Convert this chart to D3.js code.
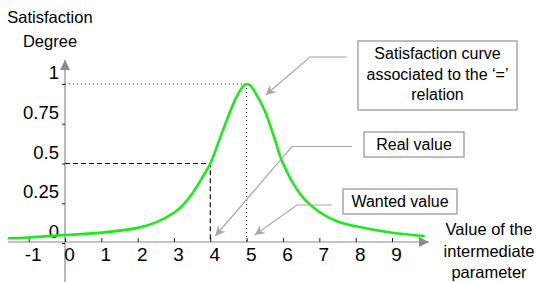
<!DOCTYPE html>
<html>
<head>
<meta charset="utf-8">
<script src="https://cdn.jsdelivr.net/npm/d3@7"></script>
<style>
  body { margin: 0; background: #fff; }
</style>
</head>
<body>
<div id="chart"></div>
<script>
// values
const xValues = [-1.57, -1, 0, 1, 2, 2.5, 3, 3.25, 3.5, 3.8, 4, 4.25, 4.5, 4.7, 4.9, 5, 5.1, 5.3, 5.5, 5.75, 6, 6.5, 7, 7.5, 8, 9, 9.9]
const satValues = [0.03, 0.035, 0.05, 0.065, 0.095, 0.13, 0.19, 0.24, 0.31, 0.42, 0.5, 0.65, 0.8, 0.91, 0.985, 1.0, 0.99, 0.92, 0.83, 0.67, 0.5, 0.3, 0.195, 0.135, 0.105, 0.065, 0.044]
const xTicks = [-1, 0, 1, 2, 3, 4, 5, 6, 7, 8, 9]
const yTicks = [0, 0.25, 0.5, 0.75, 1]
const realValue = 4
const wantedValue = 5

const width = 536
const height = 282
const gray = '#9a9a9a'
const font = '"Liberation Sans", Arial, sans-serif'

const svg = d3.select('#chart')
  .append('svg')
  .attr('width', width)
  .attr('height', height)
  .attr('font-family', font)

const x = d3.scaleLinear().domain([0, 9]).range([65, 392])
const y = d3.scaleLinear().domain([0, 1]).range([243, 84])
const axisY = y(0) - 1

// arrow markers
const defs = svg.append('defs')
defs.append('marker')
  .attr('id', 'axisHead')
  .attr('viewBox', '0 0 10 10')
  .attr('refX', 10).attr('refY', 5)
  .attr('markerWidth', 10).attr('markerHeight', 14)
  .attr('markerUnits', 'userSpaceOnUse')
  .attr('orient', 'auto')
  .append('path')
  .attr('d', 'M0,0 L10,5 L0,10 Z')
  .attr('fill', '#8a8a8a')
defs.append('marker')
  .attr('id', 'noteHead')
  .attr('viewBox', '0 0 10 10')
  .attr('refX', 10).attr('refY', 5)
  .attr('markerWidth', 14).attr('markerHeight', 10)
  .attr('markerUnits', 'userSpaceOnUse')
  .attr('orient', 'auto')
  .append('path')
  .attr('d', 'M0,0 L10,5 L0,10 L3,5 Z')
  .attr('fill', '#a8a8a8')

// axis lines
svg.append('line')
  .attr('x1', 8).attr('x2', 429)
  .attr('y1', axisY).attr('y2', axisY)
  .attr('stroke', '#8a8a8a').attr('stroke-width', 1.2)
  .attr('marker-end', 'url(#axisHead)')
svg.append('line')
  .attr('x1', x(0)).attr('x2', x(0))
  .attr('y1', height).attr('y2', 60)
  .attr('stroke', '#8a8a8a').attr('stroke-width', 1.2)
  .attr('marker-end', 'url(#axisHead)')

// x axis
const xAxis = svg.append('g')
  .attr('transform', `translate(0, ${axisY})`)
  .call(d3.axisTop(x).tickValues(xTicks).tickSize(4).tickFormat(d3.format('d')))
xAxis.attr('font-family', font)
xAxis.select('.domain').remove()
xAxis.selectAll('.tick line').attr('stroke', '#222')
xAxis.selectAll('.tick text')
  .attr('y', 18.5).attr('dy', 0).attr('x', 4)
  .attr('font-size', 19).attr('fill', '#000')
  .text(d => d < 0 ? '-' + Math.abs(d) : d)

// y axis
const yAxis = svg.append('g')
  .attr('transform', `translate(${x(0)}, 0)`)
  .call(d3.axisLeft(y).tickValues(yTicks).tickSize(3).tickFormat(d => String(d)))
yAxis.attr('font-family', font)
yAxis.select('.domain').remove()
yAxis.selectAll('.tick line').attr('stroke', '#222')
yAxis.selectAll('.tick text')
  .attr('x', -6).attr('dy', 0).attr('y', -5.5)
  .attr('font-size', 18.5).attr('fill', '#000')

// guide lines
svg.append('path')
  .attr('d', `M${x(0)},${y(1)} H${x(wantedValue)} M${x(wantedValue)},${y(1)} V${axisY}`)
  .attr('fill', 'none').attr('stroke', '#222')
  .attr('stroke-width', 1).attr('stroke-dasharray', '1,3')
svg.append('path')
  .attr('d', `M${x(0)},${y(0.5)} H${x(realValue)} V${axisY}`)
  .attr('fill', 'none').attr('stroke', '#111')
  .attr('stroke-width', 1.2).attr('stroke-dasharray', '5,3')

// curve
const points = xValues.map((v, i) => [v, satValues[i]])
svg.append('path')
  .datum(points)
  .attr('d', d3.line().x(d => x(d[0])).y(d => y(d[1])).curve(d3.curveCatmullRom.alpha(0.5)))
  .attr('fill', 'none')
  .attr('stroke', '#1bea1b')
  .attr('stroke-width', 2.6)

// axis titles
const titleY = svg.append('text').attr('font-size', 16.5).attr('text-anchor', 'middle')
titleY.append('tspan').attr('x', 50).attr('y', 23).text('Satisfaction')
titleY.append('tspan').attr('x', 50).attr('y', 47).text('Degree')

const titleX = svg.append('text').attr('font-size', 16.5).attr('text-anchor', 'middle')
titleX.append('tspan').attr('x', 489).attr('y', 235).text('Value of the')
titleX.append('tspan').attr('x', 489).attr('y', 257).text('intermediate')
titleX.append('tspan').attr('x', 489).attr('y', 278).text('parameter')

// annotations
const notes = [
  {lines: ['Satisfaction curve', 'associated to the \u2018=\u2019', 'relation'],
   box: [358, 41, 159, 69], elbow: [[347, 57], [310, 57]], tip: [x(wantedValue) + 19, y(1) + 11]},
  {lines: ['Real value'],
   box: [364, 132, 100, 25], elbow: [[352, 146.5], [292, 146.5]], tip: [x(realValue) + 5, axisY - 6]},
  {lines: ['Wanted value'],
   box: [343, 189, 114, 25], elbow: [[332, 205], [297, 205]], tip: [x(wantedValue) + 8, axisY - 7]}
]

notes.forEach(n => {
  const [bx, by, bw, bh] = n.box
  svg.append('rect')
    .attr('x', bx).attr('y', by).attr('width', bw).attr('height', bh)
    .attr('fill', '#fff').attr('stroke', gray).attr('stroke-width', 1.3)
  const t = svg.append('text').attr('font-size', 16).attr('text-anchor', 'middle')
  n.lines.forEach((l, i) => {
    t.append('tspan')
      .attr('x', bx + bw / 2)
      .attr('y', by + (n.lines.length === 1 ? 17.5 : 18 + i * 20.5))
      .text(l)
  })
  const pts = n.elbow.concat([n.tip])
  svg.append('path')
    .attr('d', d3.line()(pts))
    .attr('fill', 'none').attr('stroke', '#a8a8a8').attr('stroke-width', 1.2)
    .attr('marker-end', 'url(#noteHead)')
})
</script>
</body>
</html>
